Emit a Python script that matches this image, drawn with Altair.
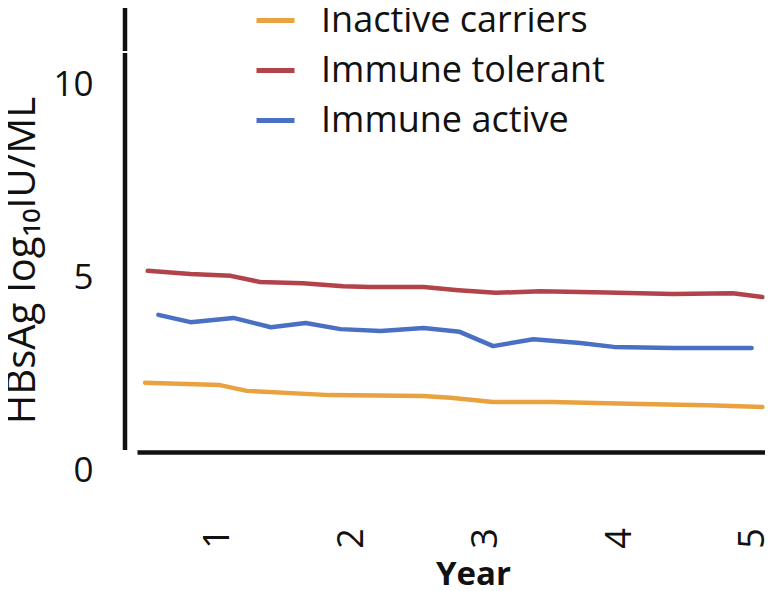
import altair as alt
import pandas as pd

# ---- data ----
series_names = ["Inactive carriers", "Immune tolerant", "Immune active"]
series_colors = ["#E9A23F", "#B3434A", "#4A70C4"]

inactive_years = [0.46, 1.02, 1.22, 1.84, 2.54, 2.74, 3.06, 3.50, 4.16, 4.66, 5.07]
inactive_vals = [2.26, 2.20, 2.05, 1.94, 1.92, 1.87, 1.76, 1.76, 1.71, 1.68, 1.63]

tolerant_years = [0.48, 0.80, 1.10, 1.32, 1.64, 1.94, 2.14, 2.54, 2.80, 3.08, 3.41, 3.91, 4.40, 4.85, 5.07]
tolerant_vals = [5.16, 5.08, 5.03, 4.87, 4.84, 4.76, 4.74, 4.74, 4.66, 4.59, 4.63, 4.60, 4.56, 4.58, 4.48]

active_years = [0.56, 0.80, 1.12, 1.40, 1.66, 1.92, 2.22, 2.54, 2.81, 3.06, 3.36, 3.71, 3.96, 4.40, 4.99]
active_vals = [4.02, 3.83, 3.94, 3.70, 3.81, 3.65, 3.60, 3.68, 3.58, 3.21, 3.39, 3.29, 3.19, 3.16, 3.16]

x_ticks = [1, 2, 3, 4, 5]
y_ticks = [0, 5, 10]
x_title = "Year"
y_title = "HBsAg log\u2081\u2080IU/ML"

rows = []
for name, ys, vs in [
    (series_names[0], inactive_years, inactive_vals),
    (series_names[1], tolerant_years, tolerant_vals),
    (series_names[2], active_years, active_vals),
]:
    for yr, v in zip(ys, vs):
        rows.append({"series": name, "year": yr, "value": v})
df = pd.DataFrame(rows)

FONT = "Open Sans"

lines = alt.Chart(df).mark_line(strokeWidth=4.5, strokeCap="round", strokeJoin="round").encode(
    x=alt.X(
        "year:Q",
        scale=alt.Scale(domain=[0.4, 5.09], nice=False, zero=False),
        axis=alt.Axis(
            values=x_ticks,
            title=x_title,
            labelAngle=270,
            labelAlign="center",
            labelBaseline="middle",
            labelPadding=86,
            labelFontSize=36,
            labelFont=FONT,
            labelColor="#111111",
            ticks=False,
            grid=False,
            domain=True,
            domainColor="#111111",
            domainWidth=4.5,
            offset=-18,
            titleFont=FONT,
            titleFontSize=33,
            titleFontWeight="bold",
            titleColor="#111111",
            titleX=336,
            titleY=132,
            titleBaseline="alphabetic",
            titleAlign="center",
        ),
    ),
    y=alt.Y(
        "value:Q",
        scale=alt.Scale(domain=[0, 11.97], nice=False),
        axis=alt.Axis(
            values=y_ticks,
            title=y_title,
            labelFontSize=35,
            labelFont=FONT,
            labelColor="#111111",
            labelPadding=44,
            ticks=False,
            grid=False,
            domain=False,
            titleFont=FONT,
            titleFontSize=40,
            titleFontWeight="normal",
            titleColor="#111111",
            titleAngle=270,
            titleX=-103,
            titleY=252,
            titleBaseline="alphabetic",
            titleAlign="center",
        ),
    ),
    color=alt.Color(
        "series:N",
        scale=alt.Scale(domain=series_names, range=series_colors),
        legend=alt.Legend(
            title=None,
            orient="none",
            legendX=117,
            legendY=-9,
            symbolType="stroke",
            symbolSize=1444,
            symbolStrokeWidth=5,
            labelFontSize=36,
            labelFont=FONT,
            labelColor="#111111",
            labelOffset=24,
            labelLimit=600,
            rowPadding=10,
            padding=0,
        ),
    ),
)

axis_df = pd.DataFrame({"k": [0, 1]})
yaxis_line = alt.Chart(axis_df).transform_filter("datum.k == 0").mark_rule(
    color="#111111", strokeWidth=4.5
).encode(x=alt.value(-12), y=alt.value(0), y2=alt.value(43))
yaxis_line2 = alt.Chart(axis_df).transform_filter("datum.k == 1").mark_rule(
    color="#111111", strokeWidth=4.5
).encode(x=alt.value(-12), y=alt.value(45), y2=alt.value(442))

chart = alt.layer(lines, yaxis_line, yaxis_line2).properties(
    width=628,
    height=462,
    autosize=alt.AutoSizeParams(type="none"),
    padding={"left": 129, "top": 0, "right": 0, "bottom": 125},
    background="white",
).configure_view(stroke=None)

chart.save("out.html", embed_options={"renderer": "svg", "actions": False})
